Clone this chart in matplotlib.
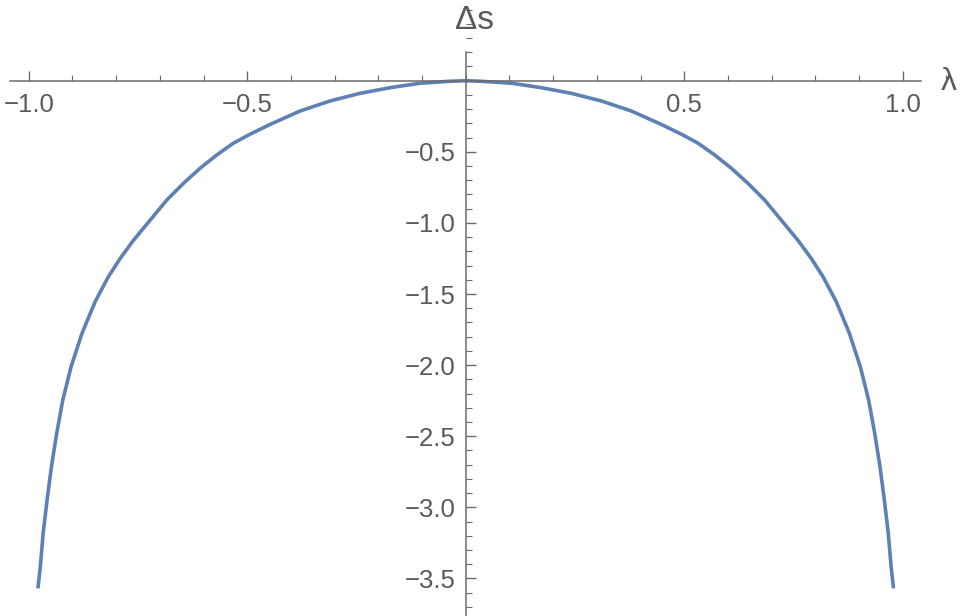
import matplotlib
matplotlib.use("Agg")
import matplotlib.pyplot as plt
from matplotlib.ticker import FixedLocator, MultipleLocator

# values (lambda, delta s), left half then right half
lam = [-0.979, -0.9735, -0.967, -0.958, -0.948, -0.936, -0.922, -0.903, -0.878,
       -0.848, -0.818, -0.791, -0.761, -0.722, -0.684, -0.646, -0.608, -0.570,
       -0.532, -0.494, -0.448, -0.379, -0.311, -0.242, -0.173, -0.105, -0.036,
       0.0,
       0.036, 0.105, 0.173, 0.242, 0.311, 0.379, 0.448, 0.494, 0.532, 0.570,
       0.608, 0.646, 0.684, 0.722, 0.761, 0.791, 0.818, 0.848, 0.878, 0.903,
       0.922, 0.936, 0.948, 0.958, 0.967, 0.9735, 0.979]
ds = [-3.570, -3.418, -3.183, -2.949, -2.714, -2.480, -2.245, -2.011, -1.776,
      -1.554, -1.380, -1.251, -1.125, -0.980, -0.839, -0.722, -0.616, -0.523,
      -0.440, -0.377, -0.308, -0.213, -0.143, -0.089, -0.049, -0.018, -0.004,
      0.0,
      -0.004, -0.018, -0.049, -0.089, -0.143, -0.213, -0.308, -0.377, -0.440,
      -0.523, -0.616, -0.722, -0.839, -0.980, -1.125, -1.251, -1.380, -1.554,
      -1.776, -2.011, -2.245, -2.480, -2.714, -2.949, -3.183, -3.418, -3.570]

x_ticks = [-1.0, -0.5, 0.5, 1.0]
y_ticks = [-0.5, -1.0, -1.5, -2.0, -2.5, -3.0, -3.5]

axis_col = "#6b6b6b"
text_col = "#5a5a5a"
line_col = "#5e81b5"

plt.rcParams['font.family'] = ['Liberation Sans', 'DejaVu Sans']

fig = plt.figure(figsize=(9.61, 6.16), dpi=100)
ax = fig.add_axes([0, 0, 1, 1])
ax.plot(lam, ds, color=line_col, lw=2.6, solid_capstyle='butt', solid_joinstyle='round')

ax.set_xlim(-1.0657, 1.1334)
ax.set_ylim(-3.764, 0.5675)

# axes through the origin, like Mathematica
for side in ['top', 'right']:
    ax.spines[side].set_visible(False)
ax.spines['left'].set_position(('data', 0))
ax.spines['bottom'].set_position(('data', 0))
ax.spines['bottom'].set_bounds(-1.043, 1.041)
ax.spines['left'].set_bounds(-3.764, 0.2)
for side in ['left', 'bottom']:
    ax.spines[side].set_color(axis_col)
    ax.spines[side].set_linewidth(1.1)

ax.xaxis.set_major_locator(FixedLocator(x_ticks))
ax.yaxis.set_major_locator(FixedLocator(y_ticks))
ax.xaxis.set_minor_locator(MultipleLocator(0.1))
ax.yaxis.set_minor_locator(MultipleLocator(0.1))
ax.set_xticklabels([f"{v:.1f}".replace("-", "\u2212") for v in x_ticks])
ax.set_yticklabels([f"{v:.1f}".replace("-", "\u2212") for v in y_ticks])

ax.tick_params(axis='both', which='both', direction='in', color=axis_col,
               labelcolor=text_col, labelsize=18.5)
ax.tick_params(axis='both', which='major', length=7, width=1.0)
ax.tick_params(axis='both', which='minor', length=4.5, width=0.8)
ax.tick_params(axis='x', which='major', pad=8.5)
ax.tick_params(axis='y', which='major', pad=7)

ax.text(0.021, 0.364, "\u0394s", ha='center', va='baseline', fontsize=24, color=text_col)
ax.text(1.105, -0.065, "\u03bb", ha='center', va='baseline', fontsize=23, color=text_col)

fig.savefig("out.png", dpi=100)
